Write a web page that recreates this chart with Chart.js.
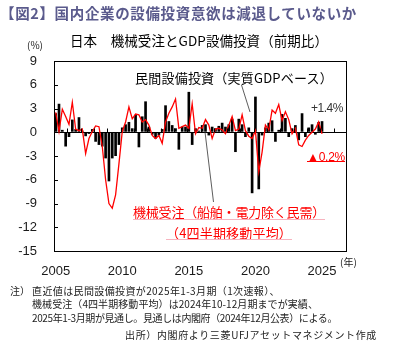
<!DOCTYPE html>
<html>
<head>
<meta charset="utf-8">
<script src="https://cdn.jsdelivr.net/npm/chart.js@4"></script>
<style>
  body { margin: 0; background: #fff; }
  #page { position: relative; width: 393px; height: 345px; overflow: hidden; font-family: "Noto Sans CJK JP", sans-serif; }
  #wrap { position: absolute; left: 0; top: 0; width: 393px; height: 280px; }
  .t { position: absolute; white-space: nowrap; line-height: 1; }
  .ul { position: absolute; height: 0; }
</style>
</head>
<body>
<div id="page">
  <div id="wrap"><canvas id="chart"></canvas></div>
  <svg width="393" height="345" style="position:absolute;left:0;top:0">
    <line x1="241.5" y1="85" x2="250" y2="112" stroke="#333" stroke-width="0.8"/>
    <line x1="205" y1="132" x2="213.5" y2="202" stroke="#333" stroke-width="0.8"/>
  </svg>

  <div class="t" data-w="357" style="left:0;top:6px;font-size:14.5px;font-weight:bold;color:#5a5a8c">【図2】国内企業の設備投資意欲は減退していないか</div>
  <div class="t" data-w="258" style="left:70px;top:34px;font-size:13.5px;color:#000">日本　機械受注とGDP設備投資（前期比）</div>
  <div class="t" style="left:27px;top:40px;font-size:10px;color:#222">(%)</div>
  <div class="t" style="left:340px;top:257px;font-size:10px;color:#222">(年)</div>

  <div class="t" data-w="198" style="left:135px;top:70.5px;font-size:13px;color:#000">民間設備投資（実質GDPベース）</div>
  <div class="t" data-w="32" style="left:311px;top:102px;font-size:12px;font-family:'Liberation Sans',sans-serif;color:#333">+1.4%</div>
  <div class="t" data-w="38" style="left:307px;top:150.5px;font-size:12px;font-family:'Liberation Sans',sans-serif;color:#ff0000">▲0.2%</div>
  <div class="ul" style="left:307px;top:161px;width:38px;border-top:1px solid #ff0000"></div>

  <div class="t" data-w="192" style="left:133px;top:205px;font-size:13px;color:#ff0000">機械受注（船舶・電力除く民需）</div>
  <div class="ul" style="left:133px;top:219px;width:192px;border-top:1.5px solid #f7b4bf"></div>
  <div class="t" data-w="126" style="left:166px;top:225.5px;font-size:13px;color:#ff0000">（4四半期移動平均）</div>
  <div class="ul" style="left:166px;top:239px;width:126px;border-top:1.5px solid #f7b4bf"></div>

  <div class="t" style="left:10px;top:286px;font-size:10px;color:#222">注）</div>
  <div class="t" data-w="248" style="left:32px;top:286px;font-size:10px;color:#222">直近値は民間設備投資が2025年1-3月期（1次速報）、</div>
  <div class="t" data-w="286" style="left:32px;top:299px;font-size:10px;color:#222">機械受注（4四半期移動平均）は2024年10-12月期までが実績、</div>
  <div class="t" data-w="305" style="left:32px;top:313px;font-size:10px;color:#222">2025年1-3月期が見通し。見通しは内閣府（2024年12月公表）による。</div>
  <div class="t" data-w="252" style="left:125px;top:330px;font-size:10px;color:#222">出所）内閣府より三菱UFJアセットマネジメント作成</div>
</div>

<script>
// 四半期の軸（2005年1Q〜2026年4Q）
const years = [2005, 2006, 2007, 2008, 2009, 2010, 2011, 2012, 2013, 2014, 2015,
               2016, 2017, 2018, 2019, 2020, 2021, 2022, 2023, 2024, 2025, 2026];
const quarters = ['1Q', '2Q', '3Q', '4Q'];
const tickYears = [2005, 2010, 2015, 2020, 2025];

// 民間設備投資（実質GDPベース, 前期比%） 2005年1Q〜2025年1Q
const capex = [
   2.4,  3.6,  0.3, -1.8,   // 2005
  -0.6,  1.6,  0.4,  1.9,   // 2006
   0.2, -0.5, -0.2,  0.4,   // 2007
  -1.2, -1.6, -1.8, -3.3,   // 2008
  -6.2, -3.3, -3.0, -1.6,   // 2009
   0.6,  1.0,  1.3,  0.5,   // 2010
   2.2, -1.9,  2.0,  3.9,   // 2011
   0.7, -0.3, -0.8, -0.4,   // 2012
   0.4,  3.4,  1.4,  0.9,   // 2013
   0.5, -2.2,  0.7,  0.7,   // 2014
   5.1, -1.6,  0.5,  0.2,   // 2015
   0.9,  1.0, -0.4,  0.7,   // 2016
   0.5,  0.8,  1.2,  0.7,   // 2017
   1.0,  1.7, -2.5,  1.7,   // 2018
   1.0, -0.6,  0.6, -7.7,   // 2019
   4.5, -7.2, -0.4,  0.6,   // 2020
   1.2,  1.5, -1.2,  0.3,   // 2021
   2.3,  1.8, -0.6,  0.5,   // 2022
   0.9, -1.0,  2.4, -0.6,   // 2023
   0.6,  1.0, -0.3,  1.3,   // 2024
   1.4                      // 2025
];

// 機械受注（船舶・電力除く民需, 4四半期移動平均, 前期比%）
const orders = [
   2.5,  0.1,  2.9,  2.0,
   1.0,  3.8,  0.4,  0.2,
   0.4, -2.7, -0.8,  0.1,
   0.8,  0.7, -1.8, -6.0,
  -9.0, -9.6, -7.9, -4.0,
   0.1,  1.3,  3.2,  1.7,
   2.3,  2.2,  1.3,  1.6,
   0.9, -0.4, -0.8, -0.4,
  -1.4,  1.3,  2.4,  3.2,
   4.2,  0.5,  0.7,  0.9,
   0.5,  3.6, -0.2,  0.6,
   0.5,  1.6,  0.9, -0.8,
   0.4,  0.5,  0.3, -0.2,
   0.9,  2.0,  0.2,  0.4,
   2.2,  0.2, -0.5, -0.8,
   0.2, -5.0, -2.5,  0.9,
   0.3,  2.8,  2.4,  3.5,
   1.5,  2.6,  1.6, -0.2,
   0.5, -1.6, -1.8, -1.0,
  -0.4,  0.0,  0.4,  1.3,
  -0.2
];

const labels = [];
years.forEach(y => quarters.forEach(q => labels.push(y + ' ' + q)));

// テキスト幅を元図に合わせる
document.querySelectorAll('.t[data-w]').forEach(el => {
    const target = +el.dataset.w;
    const n = [...el.textContent].length;
    const w = el.getBoundingClientRect().width;
    el.style.letterSpacing = ((target - w) / n) + 'px';
});

// 枠線・目盛り線
const frame = {
    id: 'frame',
    afterDatasetsDraw(chart) {
        const { ctx, chartArea: a, scales } = chart;
        ctx.save();
        ctx.strokeStyle = '#000';
        ctx.lineWidth = 1;
        ctx.strokeRect(Math.round(a.left) + 0.5, Math.round(a.top) + 0.5,
                       Math.round(a.right - a.left) - 1, Math.round(a.bottom - a.top));
        ctx.beginPath();
        scales.y.ticks.forEach(t => {
            if (t.value <= -15 || t.value >= 9) return;
            const y = Math.round(scales.y.getPixelForValue(t.value)) + 0.5;
            ctx.moveTo(a.left, y);
            ctx.lineTo(a.left + 4, y);
        });
        const y0 = Math.round(scales.y.getPixelForValue(0)) + 0.5;
        const step = (a.right - a.left) / labels.length;
        for (let k = 4; k < labels.length; k += 4) {
            const x = Math.round(a.left + step * k) + 0.5;
            ctx.moveTo(x, y0);
            ctx.lineTo(x, y0 - 4);
        }
        ctx.stroke();
        ctx.restore();
    }
};

const tickFont = { family: "'Liberation Sans', Arial, sans-serif", size: 13 };

new Chart(document.getElementById('chart').getContext('2d'), {
    type: 'bar',
    data: {
        labels,
        datasets: [
            {
                type: 'line',
                label: '機械受注',
                data: orders,
                borderColor: '#ff0000',
                borderWidth: 1.3,
                pointRadius: 0,
                tension: 0,
                order: 0
            },
            {
                type: 'bar',
                label: '民間設備投資',
                data: capex,
                backgroundColor: '#000',
                barPercentage: 0.8,
                categoryPercentage: 1,
                order: 1
            }
        ]
    },
    options: {
        responsive: true,
        maintainAspectRatio: false,
        animation: false,
        layout: { padding: { top: 61, right: 46, left: 0, bottom: 0 } },
        plugins: { legend: { display: false }, tooltip: { enabled: false } },
        scales: {
            x: {
                grid: { display: false, drawTicks: false },
                border: { display: false },
                ticks: {
                    autoSkip: false,
                    maxRotation: 0,
                    padding: 13,
                    font: tickFont,
                    color: '#1a1a1a',
                    callback: (v, i) => {
                        const [y, q] = labels[i].split(' ');
                        return q === '1Q' && tickYears.includes(+y) ? y : '';
                    }
                },
                afterFit: s => { s.height = 29; }
            },
            y: {
                min: -15,
                max: 9,
                ticks: { stepSize: 3, padding: 17, font: tickFont, color: '#1a1a1a' },
                grid: {
                    drawTicks: false,
                    lineWidth: 1,
                    color: c => (c.tick && c.tick.value === 0 ? '#000' : 'rgba(0,0,0,0)')
                },
                border: { display: false },
                afterFit: s => { s.width = 54; }
            }
        }
    },
    plugins: [frame]
});
</script>
</body>
</html>
